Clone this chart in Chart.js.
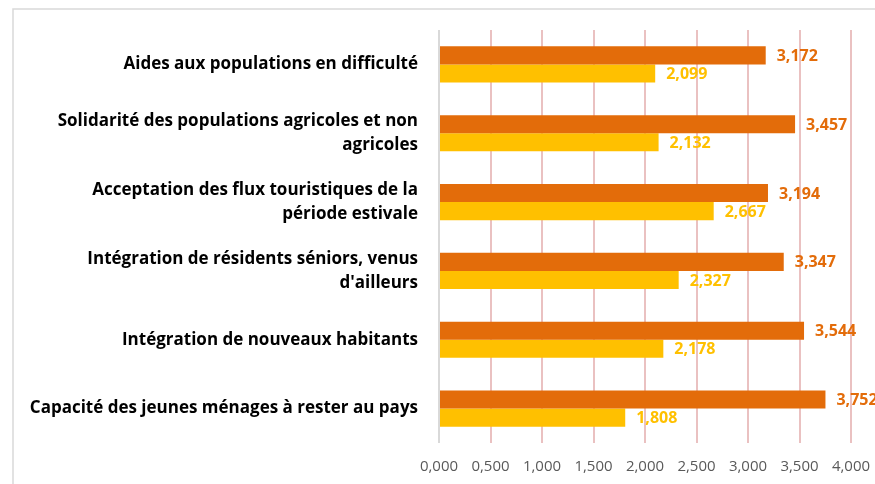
<!DOCTYPE html>
<html>
<head>
<meta charset="utf-8">
<script src="https://cdn.jsdelivr.net/npm/chart.js@4"></script>
<style>
  html, body { margin: 0; padding: 0; background: #fff; }
  #wrap { width: 875px; height: 484px; position: relative; }
</style>
</head>
<body>
<div id="wrap"><canvas id="myChart" width="875" height="484"></canvas></div>
<script>
const categories = [
  'Aides aux populations en difficulté',
  ['Solidarité des populations agricoles et non', 'agricoles'],
  ['Acceptation des flux touristiques de la', 'période estivale'],
  ['Intégration de résidents séniors, venus', "d'ailleurs"],
  'Intégration de nouveaux habitants',
  'Capacité des jeunes ménages à rester au pays'
];
const seriesOrange = [3.172, 3.457, 3.194, 3.347, 3.544, 3.752];
const seriesYellow = [2.099, 2.132, 2.667, 2.327, 2.178, 1.808];
const xTicks = [0, 0.5, 1, 1.5, 2, 2.5, 3, 3.5, 4];

const fr = v => v.toFixed(3).replace('.', ',');

// cadre gris clair autour du graphique
const frame = {
  id: 'frame',
  beforeDraw(chart) {
    const c = chart.ctx;
    c.save();
    c.strokeStyle = '#d9d9d9';
    c.lineWidth = 1.5;
    c.beginPath();
    c.moveTo(13, 600);
    c.lineTo(13, 9);
    c.lineTo(900, 9);
    c.stroke();
    c.restore();
  }
};

// étiquettes de valeurs au bout des barres
const valueLabels = {
  id: 'valueLabels',
  afterDatasetsDraw(chart) {
    const c = chart.ctx;
    c.save();
    c.font = 'bold 16px "Open Sans"';
    c.textBaseline = 'middle';
    c.textAlign = 'left';
    chart.data.datasets.forEach((ds, i) => {
      chart.getDatasetMeta(i).data.forEach((bar, j) => {
        c.fillStyle = ds.backgroundColor;
        c.fillText(fr(ds.data[j]), bar.x + 11, bar.y + 1);
      });
    });
    c.restore();
  }
};

const ctx = document.getElementById('myChart');

new Chart(ctx, {
  type: 'bar',
  data: {
    labels: categories,
    datasets: [{
      data: seriesOrange,
      backgroundColor: '#e36c0a',
      categoryPercentage: 0.525,
      barPercentage: 1
    }, {
      data: seriesYellow,
      backgroundColor: '#ffc000',
      categoryPercentage: 0.525,
      barPercentage: 1
    }]
  },
  options: {
    indexAxis: 'y',
    responsive: false,
    animation: false,
    layout: { padding: { top: 30, right: 24, left: 0, bottom: 0 } },
    plugins: {
      legend: { display: false },
      tooltip: { enabled: false }
    },
    scales: {
      x: {
        min: 0,
        max: 4,
        afterBuildTicks: s => { s.ticks = xTicks.map(v => ({ value: v })); },
        afterFit: s => { s.height = 41; s.paddingRight = 0; s.paddingLeft = 0; },
        border: { display: false },
        grid: {
          drawTicks: false,
          lineWidth: 2,
          color: c => c.tick && c.tick.value === 0 ? '#d9d9d9' : '#eac1c1'
        },
        ticks: {
          padding: 15,
          color: '#595959',
          font: { family: '"Open Sans"', size: 15 },
          callback: v => fr(v)
        }
      },
      y: {
        afterFit: s => { s.width = 439; s.paddingTop = 0; s.paddingBottom = 0; },
        border: { display: false },
        grid: { display: false, drawTicks: false },
        ticks: {
          padding: 21,
          color: '#000',
          font: { family: '"Open Sans"', size: 17, weight: 'bold', lineHeight: 1.4 }
        }
      }
    }
  },
  plugins: [frame, valueLabels]
});
</script>
</body>
</html>
